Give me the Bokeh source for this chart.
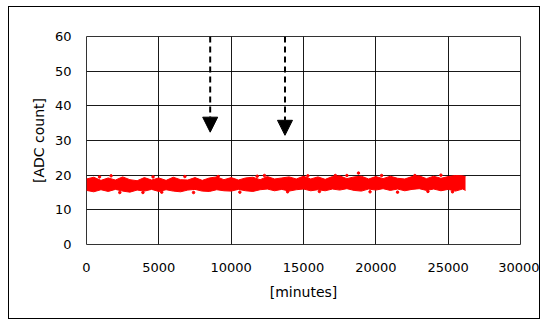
from bokeh.plotting import figure
from bokeh.models import (ColumnDataSource, Arrow, NormalHead, SingleIntervalTicker,
                          Range1d)
from bokeh.embed import file_html
from bokeh.resources import INLINE

# ---- data ----
x_env = list(range(0, 26001, 500)) + [26200]
upper = [18.9, 19.4, 18.5, 19.2, 18.6, 19.5, 18.7, 18.4, 19.3, 18.6,
         19.2, 18.5, 19.4, 18.7, 18.6, 19.3, 18.5, 19.2, 19.5, 18.7,
         19.3, 18.6, 19.2, 19.4, 18.7, 19.6, 18.9, 19.2, 19.5, 18.9,
         19.7, 18.9, 19.5, 18.8, 19.6, 19.8, 19.0, 19.5, 19.7, 18.9,
         19.6, 19.0, 19.7, 19.1, 18.9, 19.6, 19.8, 19.0, 19.7, 19.1,
         19.6, 19.9, 19.8, 19.6]
lower = [15.6, 15.2, 15.8, 15.3, 15.9, 15.4, 15.1, 15.7, 15.4, 15.9,
         15.3, 15.8, 15.4, 15.2, 15.7, 15.9, 15.4, 15.3, 15.8, 15.5,
         15.4, 15.9, 15.5, 15.3, 15.8, 16.0, 15.5, 15.9, 15.4, 15.8,
         16.0, 15.5, 15.8, 15.5, 16.0, 15.7, 16.1, 15.6, 15.4, 16.0,
         15.7, 16.1, 15.6, 16.0, 15.5, 15.9, 16.1, 15.6, 16.0, 15.5,
         15.9, 15.4, 16.0, 15.6]
spike_x = [900, 1700, 2300, 3900, 4600, 5200, 6800, 7400, 9100, 10600,
           11800, 12300, 13900, 15300, 16100, 17200, 18000, 18800, 19600,
           20400, 21500, 22700, 23600, 24500, 25300]
spike_y = [19.5, 19.8, 15.0, 15.0, 19.5, 15.1, 19.6, 15.0, 19.6, 15.1,
           19.7, 19.9, 15.2, 19.8, 15.3, 19.9, 19.9, 20.6, 15.2,
           19.9, 15.1, 19.9, 15.3, 20.0, 15.2]

arrow_x = [8550, 13720]
arrow_top = [60, 60]
arrow_tip = [32.4, 31.5]

x_ticks_interval = 5000
y_ticks_interval = 10

FONT = "DejaVu Sans"

p = figure(width=532, height=313, output_backend="svg", toolbar_location=None,
           x_range=Range1d(0, 30000), y_range=Range1d(0, 60),
           min_border_left=77, min_border_top=29, min_border_right=21,
           min_border_bottom=76,
           styles={"border": "1px solid black", "margin-left": "8px",
                   "margin-top": "6px"})
p.background_fill_color = "white"
p.border_fill_color = "white"
p.outline_line_color = "#333333"
p.outline_line_width = 1

p.xaxis.ticker = SingleIntervalTicker(interval=x_ticks_interval)
p.yaxis.ticker = SingleIntervalTicker(interval=y_ticks_interval)
for ax in (p.xaxis, p.yaxis):
    ax.axis_line_color = None
    ax.major_tick_line_color = None
    ax.minor_tick_line_color = None
    ax.major_tick_out = 0
    ax.major_tick_in = 0
    ax.minor_tick_out = 0
    ax.minor_tick_in = 0
    ax.major_label_text_font = FONT
    ax.major_label_text_font_size = "13px"
    ax.major_label_text_color = "black"
    ax.axis_label_text_font = FONT
    ax.axis_label_text_font_size = "14px"
    ax.axis_label_text_font_style = "normal"
    ax.axis_label_text_color = "black"
p.xaxis.axis_label = "[minutes]"
p.yaxis.axis_label = "[ADC count]"
p.xaxis.major_label_standoff = 18
p.xaxis.axis_label_standoff = 9
p.yaxis.major_label_standoff = 15
p.yaxis.axis_label_standoff = 5

p.xgrid.ticker = SingleIntervalTicker(interval=x_ticks_interval)
p.ygrid.ticker = SingleIntervalTicker(interval=y_ticks_interval)
p.grid.grid_line_color = "black"
p.grid.grid_line_alpha = 0.9
p.grid.grid_line_width = 1

src = ColumnDataSource(dict(x=x_env, upper=upper, lower=lower))
p.varea(x="x", y1="lower", y2="upper", source=src, fill_color="#ff0000")
p.line(x="x", y="upper", source=src, line_color="#ff0000", line_width=1)
p.line(x="x", y="lower", source=src, line_color="#ff0000", line_width=1)
p.scatter(spike_x, spike_y, size=2.5, color="#ff0000")

asrc = ColumnDataSource(dict(x=arrow_x, y0=arrow_top, y1=arrow_tip))
p.add_layout(Arrow(end=NormalHead(size=15, fill_color="black", line_color="black"),
                   x_start="x", y_start="y0", x_end="x", y_end="y1",
                   line_color="black", line_width=2, line_dash="6 4",
                   source=asrc))

open("out.html", "w").write(file_html(p, INLINE))
